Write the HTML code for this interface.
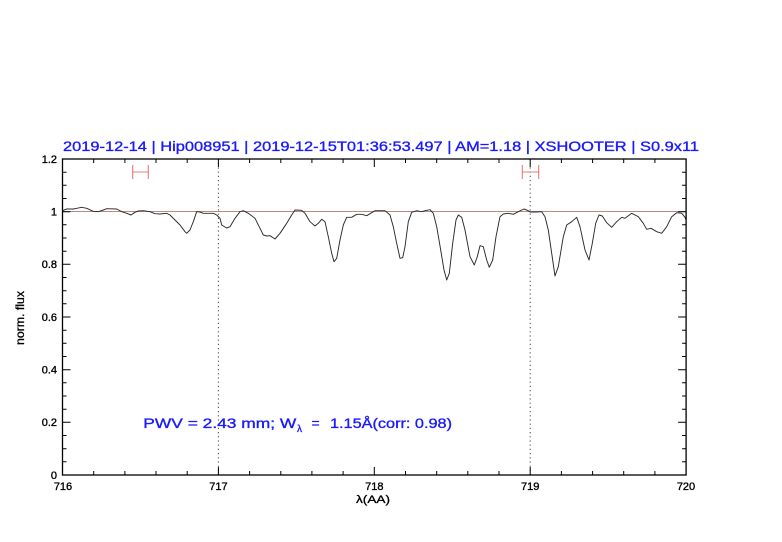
<!DOCTYPE html>
<html><head><meta charset="utf-8"><style>
html,body{margin:0;padding:0;background:#fff;}
svg{display:block;}
text{font-family:"Liberation Sans",sans-serif;}
</style></head><body>
<svg width="782" height="542" viewBox="0 0 782 542" xmlns="http://www.w3.org/2000/svg">
<rect width="782" height="542" fill="#fff"/>
<!-- title -->
<text x="63" y="151" font-size="14" fill="#1a1aff" stroke="#1a1aff" stroke-width="0.35" textLength="636" lengthAdjust="spacingAndGlyphs">2019-12-14 | Hip008951 | 2019-12-15T01:36:53.497 | AM=1.18 | XSHOOTER | S0.9x11</text>
<!-- dotted verticals -->
<line x1="218.4" y1="159" x2="218.4" y2="475" stroke="#444" stroke-width="1" stroke-dasharray="1.2,3"/>
<line x1="530.2" y1="159" x2="530.2" y2="475" stroke="#444" stroke-width="1" stroke-dasharray="1.2,3"/>
<!-- unity line -->
<line x1="62.5" y1="211.5" x2="686" y2="211.5" stroke="#d88" stroke-width="0.9"/>
<line x1="62.5" y1="211.5" x2="686" y2="211.5" stroke="#888" stroke-width="0.4"/>
<!-- error bars -->
<g stroke="#f07878" stroke-width="1.1" fill="none">
<path d="M132.7 172 H148.3 M132.7 165 V179 M148.3 165 V179"/>
<path d="M522.3 172 H538.7 M522.3 165 V179 M538.7 165 V179"/>
</g>
<!-- spectrum -->
<polyline fill="none" stroke="#2a2a2a" stroke-width="0.95" stroke-linejoin="round" points="
62.5,210.7 66.7,209 73.3,209 76.7,208.3 81.7,207.3 86.7,208.3 93.3,211.3 98.3,211.7 103.3,210 106.7,208.7 116.7,209 121.7,211.7 126.7,213.3 131,215 135,212.3 138.3,211 143.3,210.7 150,211.7 155,213.7 160,214 166.7,213.3 170,215 175,220 180,225 185,231.7 186.7,233.3 190,230 193.3,221.7 196.7,211.7 200,212 203.3,213.3 208.3,213.3 213.3,213.3 216.7,215 220,218.3 221.7,225 226.7,228 230,226.7 235,218.3 240,211.7 243.3,210.7 248.3,213.3 255,218.3 260,228.3 263.3,235 266.7,236 270,235.7 275,239 280,233.3 286.7,223.3 291.7,215 295,210 301.7,210.3 305,213.3 310,221.7 315,226 318.3,223.3 321.7,219.3 325,221.7 328.3,236.7 331.7,253.3 334,261.7 336.7,258.3 340,240 343.3,225 346.7,217.3 351.7,217.3 356.7,214.3 361.7,214.3 366.7,215.7 371.7,212.7 375,210.7 385,210.7 390,215 393.3,226.7 396.7,243.3 400,258.3 402.7,257.7 405,246.7 408.3,221.7 411.7,212.3 416.7,210.7 421.7,211.7 425,210.7 430,209.7 433.3,213.3 436.7,226.7 440.7,250 444,270 446.7,280 449.3,273.3 452.7,243.3 456,220 458.3,215 461.7,217.3 465,230 470,256.7 474.3,265 477.3,256.7 480,245.7 483.3,246.7 486.7,260 489.3,267.3 492.7,260 496,236.7 500,216.7 503.3,214 508.3,213.3 513.3,214.3 518.3,211.7 524,209 528.3,210.7 530,212 536.7,212 541.7,211.7 545,216.7 548.3,230 551.7,253.3 555,276 558.3,266.7 563.3,236.7 566.7,225 571.7,221.7 576.7,217.3 580,226.7 585,250 589,260 592.3,243.3 595.7,223.3 599,215 602.3,216 606.7,222.7 611.7,227.3 616.7,221.7 621.7,217.3 625,218.3 631.7,213.3 638.3,216.7 643.3,223.3 646.7,229.3 651,228.3 656.7,231.7 661.7,233.3 666.7,226.7 671.7,216.7 676.7,212.7 681.7,213.3 685,217.3 686,220"/>
<!-- axes frame -->
<rect x="62.5" y="159" width="623.6" height="316" fill="none" stroke="#000" stroke-width="1.3"/>
<!-- ticks -->
<g stroke="#000" stroke-width="1">
<path d="M93.7 475v-4M124.9 475v-4M156 475v-4M187.2 475v-4M249.6 475v-4M280.8 475v-4M311.9 475v-4M343.1 475v-4M405.5 475v-4M436.7 475v-4M467.8 475v-4M499 475v-4M561.4 475v-4M592.6 475v-4M623.7 475v-4M654.9 475v-4"/>
<path d="M93.7 159v4M124.9 159v4M156 159v4M187.2 159v4M249.6 159v4M280.8 159v4M311.9 159v4M343.1 159v4M405.5 159v4M436.7 159v4M467.8 159v4M499 159v4M561.4 159v4M592.6 159v4M623.7 159v4M654.9 159v4"/>
<path d="M218.4 475v-8M374.3 475v-8M530.2 475v-8M218.4 159v8M374.3 159v8M530.2 159v8"/>
<path d="M62.5 461.8h4M62.5 448.7h4M62.5 435.5h4M62.5 409.2h4M62.5 396h4M62.5 382.8h4M62.5 356.5h4M62.5 343.3h4M62.5 330.2h4M62.5 303.8h4M62.5 290.7h4M62.5 277.5h4M62.5 251.2h4M62.5 238h4M62.5 224.8h4M62.5 198.5h4M62.5 185.3h4M62.5 172.2h4"/>
<path d="M686.1 461.8h-4M686.1 448.7h-4M686.1 435.5h-4M686.1 409.2h-4M686.1 396h-4M686.1 382.8h-4M686.1 356.5h-4M686.1 343.3h-4M686.1 330.2h-4M686.1 303.8h-4M686.1 290.7h-4M686.1 277.5h-4M686.1 251.2h-4M686.1 238h-4M686.1 224.8h-4M686.1 198.5h-4M686.1 185.3h-4M686.1 172.2h-4"/>
<path d="M62.5 422.3h8M62.5 369.7h8M62.5 317h8M62.5 264.3h8M62.5 211.7h8M686.1 422.3h-8M686.1 369.7h-8M686.1 317h-8M686.1 264.3h-8M686.1 211.7h-8"/>
</g>
<!-- y tick labels -->
<g font-size="11" fill="#000" stroke="#000" stroke-width="0.35" text-anchor="end">
<text x="57" y="163">1.2</text>
<text x="57" y="215.5">1</text>
<text x="57" y="268">0.8</text>
<text x="57" y="321">0.6</text>
<text x="57" y="373.5">0.4</text>
<text x="57" y="426">0.2</text>
<text x="57" y="479">0</text>
</g>
<!-- x tick labels -->
<g font-size="11" fill="#000" stroke="#000" stroke-width="0.35" text-anchor="middle">
<text x="63" y="490">716</text>
<text x="218.4" y="490">717</text>
<text x="374.3" y="490">718</text>
<text x="530.2" y="490">719</text>
<text x="686" y="490">720</text>
</g>
<!-- axis labels -->
<text x="356" y="503" font-size="11" fill="#000" stroke="#000" stroke-width="0.3" textLength="34" lengthAdjust="spacingAndGlyphs">λ(AA)</text>
<text transform="translate(24,345) rotate(-90)" font-size="12" fill="#000" stroke="#000" stroke-width="0.3" textLength="54" lengthAdjust="spacingAndGlyphs">norm. flux</text>
<!-- PWV annotation -->
<g fill="#1a1aff" stroke="#1a1aff" stroke-width="0.35" font-size="14">
<text x="143.3" y="428" textLength="153" lengthAdjust="spacingAndGlyphs">PWV = 2.43 mm; W</text>
<text x="297" y="432" font-size="10">λ</text>
<text x="311.5" y="428">=</text>
<text x="330" y="428" textLength="122" lengthAdjust="spacingAndGlyphs">1.15Å(corr: 0.98)</text>
</g>
</svg>
</body></html>
